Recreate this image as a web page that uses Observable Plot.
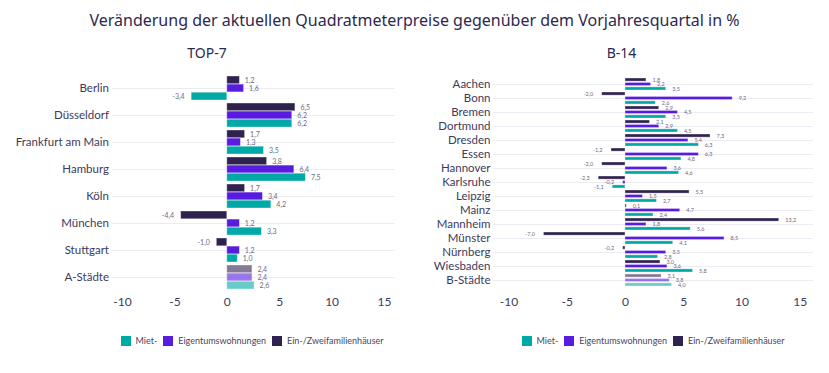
<!DOCTYPE html>
<html><head><meta charset="utf-8">
<script src="https://cdn.jsdelivr.net/npm/d3@7"></script>
<script src="https://cdn.jsdelivr.net/npm/@observablehq/plot@0.6"></script>
<style>
body{margin:0;background:#fff;width:829px;height:373px;position:relative;overflow:hidden;font-family:Lato,sans-serif;}
#title{position:absolute;left:0;width:829px;top:9px;text-align:center;font-family:"Noto Sans";font-size:16px;color:#2d2850;white-space:nowrap;}
.sub{position:absolute;top:43px;text-align:center;font-family:"Noto Sans";font-size:14px;color:#2d2850;}
.chart{position:absolute;top:60px;}
.legend{position:absolute;top:335px;display:flex;align-items:center;font-family:Lato;font-size:9px;color:#4a4560;white-space:nowrap;}
.legend .sw{width:10px;height:10px;margin-right:5px;box-sizing:border-box;}
.legend .it{display:flex;align-items:center;margin-right:6px;}
</style></head><body>
<div id="title">Veränderung der aktuellen Quadratmeterpreise gegenüber dem Vorjahresquartal in %</div>
<div class="sub" style="left:0;width:414px;">TOP-7</div>
<div class="sub" style="left:414px;width:415px;">B-14</div>
<div id="c1" class="chart" style="left:0;"></div>
<div id="c2" class="chart" style="left:414px;"></div>
<div id="l1" class="legend"></div>
<div id="l2" class="legend"></div>
<script>
// Series (drawn top to bottom inside each group)
const seriesNames = ["Ein-/Zweifamilienhäuser", "Eigentumswohnungen", "Miet-"];
const seriesColors = ["#30224f", "#5a1be0", "#00a9a5"];
const legendOrder = ["Miet-", "Eigentumswohnungen", "Ein-/Zweifamilienhäuser"];
const xTicks = [-10, -5, 0, 5, 10, 15];

// TOP-7
const top7Cities = ["Berlin", "Düsseldorf", "Frankfurt am Main", "Hamburg", "Köln", "München", "Stuttgart", "A-Städte"];
const top7EZFH = [1.2, 6.5, 1.7, 3.8, 1.7, -4.4, -1.0, 2.4];
const top7ETW  = [1.6, 6.2, 1.3, 6.4, 3.4, 1.2, 1.2, 2.4];
const top7Miet = [-3.4, 6.2, 3.5, 7.5, 4.2, 3.3, 1.0, 2.6];
const top7Aggregate = "A-Städte";

// B-14
const b14Cities = ["Aachen", "Bonn", "Bremen", "Dortmund", "Dresden", "Essen", "Hannover", "Karlsruhe", "Leipzig", "Mainz", "Mannheim", "Münster", "Nürnberg", "Wiesbaden", "B-Städte"];
const b14EZFH = [1.8, -2.0, 2.9, 2.1, 7.3, -1.2, -2.0, -2.3, 5.5, 0.1, 13.2, -7.0, -0.2, 3.0, 3.1];
const b14ETW  = [2.2, 9.2, 4.5, 2.9, 5.4, 6.3, 3.6, -0.2, 1.5, 4.7, 1.8, 8.5, 3.5, 3.6, 3.8];
const b14Miet = [3.5, 2.6, 3.5, 4.5, 6.3, 4.8, 4.6, -1.1, 2.7, 2.4, 5.6, 4.1, 2.8, 5.8, 4.0];
const b14Aggregate = "B-Städte";

const fmt = v => v.toFixed(1).replace(".", ",");

function build(cities, cols, agg) {
  const rows = [];
  cities.forEach((c, j) => cols.forEach((arr, i) => rows.push({city: c, series: seriesNames[i], si: i, value: arr[j], agg: c === agg})));
  return rows;
}

function chart(cfg) {
  const {cities, rows, width, height, mt, mb, ml, mr, pad, domain, labelSize, dxPos, dxNeg} = cfg;
  const n = cities.length;
  const step = (height - mt - mb) / (n + pad);
  const bh = step * (1 - pad) / 3;
  const marks = [Plot.gridY({stroke: "#ecebf2", strokeOpacity: 1})];
  for (let i = 0; i < 3; i++) {
    const d = rows.filter(r => r.si === i);
    marks.push(Plot.barX(d, {
      x: "value", y: "city", fill: seriesColors[i], fillOpacity: r => r.agg ? 0.6 : 1,
      stroke: "#ffffff", strokeOpacity: 0.45, strokeWidth: 0.8,
      insetTop: i * bh, insetBottom: (2 - i) * bh
    }));
  }
  for (let i = 0; i < 3; i++) {
    const d = rows.filter(r => r.si === i);
    const common = {x: "value", y: "city", text: r => fmt(r.value), dy: (i - 1) * bh, fontSize: labelSize, fill: "#6e6985"};
    marks.push(Plot.text(d.filter(r => r.value >= 0), {...common, textAnchor: "start", dx: dxPos}));
    marks.push(Plot.text(d.filter(r => r.value < 0), {...common, textAnchor: "end", dx: dxNeg}));
  }
  marks.push(Plot.axisY({tickSize: 0, tickPadding: 3, fontSize: cfg.ySize, label: null}));
  marks.push(Plot.axisX({ticks: xTicks, tickSize: 0, tickPadding: 2, fontSize: 12, label: null, tickFormat: t => String(t)}));
  return Plot.plot({
    width, height, marginTop: mt, marginBottom: mb, marginLeft: ml, marginRight: mr,
    style: {fontFamily: "Lato", color: "#3d3a5c", background: "transparent", overflow: "visible"},
    x: {domain},
    y: {type: "band", domain: cities, padding: pad, align: 0.5},
    marks
  });
}

document.getElementById("c1").append(chart({
  cities: top7Cities, rows: build(top7Cities, [top7EZFH, top7ETW, top7Miet], top7Aggregate),
  width: 414, height: 255, mt: 10.5, mb: 20.4, ml: 111.5, mr: 19.5, pad: 0.12,
  domain: [-11, 16], labelSize: 7, ySize: 11.5, dxPos: 5, dxNeg: -7
}));
document.getElementById("c2").append(chart({
  cities: b14Cities, rows: build(b14Cities, [b14EZFH, b14ETW, b14Miet], b14Aggregate),
  width: 415, height: 255, mt: 9.4, mb: 19.7, ml: 79, mr: 16, pad: 0.11,
  domain: [-11.33, 16.14], labelSize: 5.5, ySize: 11.5, dxPos: 6, dxNeg: -9
}));

function legend(id, center) {
  const el = document.getElementById(id);
  legendOrder.forEach((s, k) => {
    const it = document.createElement("div"); it.className = "it";
    const sw = document.createElement("div"); sw.className = "sw";
    sw.style.background = seriesColors[seriesNames.indexOf(s)];
    const tx = document.createElement("span"); tx.textContent = s;
    it.append(sw, tx);
    if (k === legendOrder.length - 1) it.style.marginRight = "0";
    el.append(it);
  });
  el.style.left = (center - el.offsetWidth / 2) + "px";
}
legend("l1", 252);
legend("l2", 653);
</script>
</body></html>
